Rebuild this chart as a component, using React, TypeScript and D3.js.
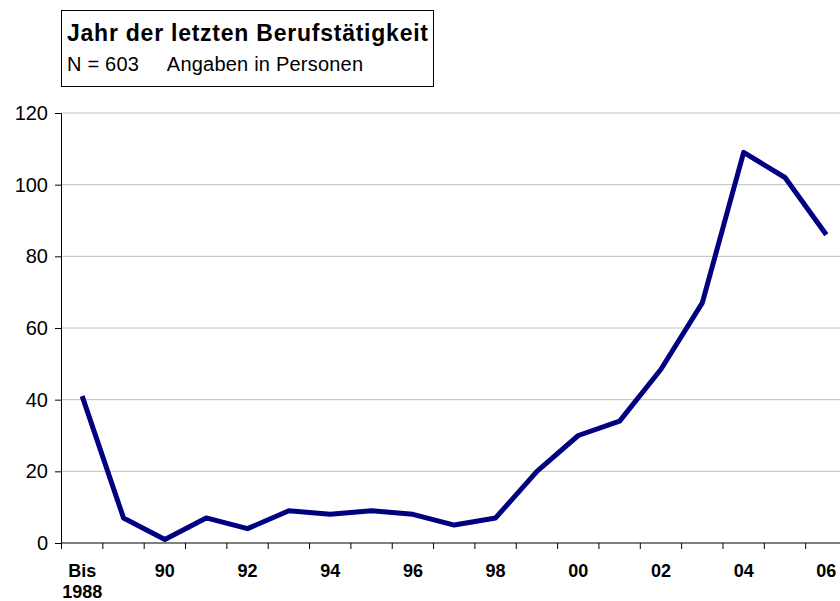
import React, { useEffect, useRef } from 'react';
import * as d3 from 'd3';

const years = ['1988', '89', '90', '91', '92', '93', '94', '95', '96', '97', '98', '99', '00', '01', '02', '03', '04', '05', '06'];
const persons = [41, 7, 1, 7, 4, 9, 8, 9, 8, 5, 7, 20, 30, 34, 48.5, 67, 109, 102, 86];
const yTicks = [0, 20, 40, 60, 80, 100, 120];
const labeledYears = ['1988', '90', '92', '94', '96', '98', '00', '02', '04', '06'];

const App: React.FC = () => {
  const svgRef = useRef<SVGSVGElement>(null);

  useEffect(() => {
    if (!svgRef.current) return;
    const svg = d3.select(svgRef.current);
    svg.selectAll('*').remove();

    const width = 840;
    const height = 601;
    // plot runs a bit past the right edge, like the original
    const margin = { top: 113, right: -7, bottom: 58, left: 61 };
    const plotW = width - margin.left - margin.right;
    const plotH = height - margin.top - margin.bottom;
    const font = '"Liberation Sans", Arial, sans-serif';

    const x = d3.scaleBand<string>().domain(years).range([0.5, plotW]);
    const y = d3.scaleLinear().domain([0, 120]).range([plotH, 0]);

    const g = svg.append('g').attr('transform', `translate(${margin.left},${margin.top})`);

    // Grid lines
    g.selectAll('.grid')
      .data(yTicks.filter(t => t > 0))
      .enter()
      .append('line')
      .attr('x1', 0)
      .attr('x2', plotW)
      .attr('y1', d => y(d))
      .attr('y2', d => y(d))
      .attr('stroke', '#c0c0c0')
      .attr('stroke-width', 1);

    // Y axis
    const yAxis = d3.axisLeft(y).tickValues(yTicks).tickSize(6).tickPadding(7);
    const yg = g.append('g').call(yAxis);
    yg.select('.domain').attr('stroke', '#000').attr('d', `M-6,0.5H0.5V${plotH}`);
    yg.selectAll('line').attr('stroke', '#000');
    yg.selectAll('text').attr('font-family', font).attr('font-size', 20).attr('fill', '#000');

    // X axis
    const xg = g.append('g').attr('transform', `translate(0,${plotH})`);
    xg.append('line').attr('x1', 0).attr('x2', plotW).attr('stroke', '#000');
    const bounds = years.map(d => x(d) as number).concat([plotW]);
    xg.selectAll('.tick')
      .data(bounds)
      .enter()
      .append('line')
      .attr('x1', d => d)
      .attr('x2', d => d)
      .attr('y1', 0)
      .attr('y2', 6)
      .attr('stroke', '#000');

    const labels = xg.selectAll('.xl')
      .data(labeledYears)
      .enter()
      .append('text')
      .attr('x', d => (x(d) as number) + x.bandwidth() / 2)
      .attr('y', 34)
      .attr('text-anchor', 'middle')
      .attr('font-family', font)
      .attr('font-weight', 'bold')
      .attr('font-size', 18)
      .attr('fill', '#000');
    labels.each(function (d) {
      const t = d3.select(this);
      if (d === '1988') {
        t.append('tspan').text('Bis');
        t.append('tspan').attr('x', (x(d) as number) + x.bandwidth() / 2).attr('dy', 21).text('1988');
      } else {
        t.text(d);
      }
    });

    // Line
    const line = d3.line<number>()
      .x((_, i) => (x(years[i]) as number) + x.bandwidth() / 2)
      .y(d => y(d));

    g.append('path')
      .datum(persons)
      .attr('fill', 'none')
      .attr('stroke', '#000080')
      .attr('stroke-width', 5)
      .attr('stroke-linejoin', 'round')
      .attr('d', line);

    // Title box
    const tb = svg.append('g');
    tb.append('rect')
      .attr('x', 61.5)
      .attr('y', 10.5)
      .attr('width', 372)
      .attr('height', 76)
      .attr('fill', '#fff')
      .attr('stroke', '#000');
    tb.append('text')
      .attr('x', 67)
      .attr('y', 41)
      .attr('font-family', font)
      .attr('font-weight', 'bold')
      .attr('font-size', 23)
      .attr('textLength', 361)
      .attr('lengthAdjust', 'spacing')
      .attr('fill', '#000')
      .text('Jahr der letzten Berufstätigkeit');
    tb.append('text')
      .attr('x', 67)
      .attr('y', 71)
      .attr('font-family', font)
      .attr('font-size', 20)
      .attr('textLength', 296)
      .attr('lengthAdjust', 'spacing')
      .attr('fill', '#000')
      .style('white-space', 'pre')
      .text('N = 603     Angaben in Personen');
  }, []);

  return (
    <svg
      ref={svgRef}
      width={840}
      height={601}
      style={{ position: 'absolute', left: 0, top: 0, background: '#fff' }}
    />
  );
};

export default App;
